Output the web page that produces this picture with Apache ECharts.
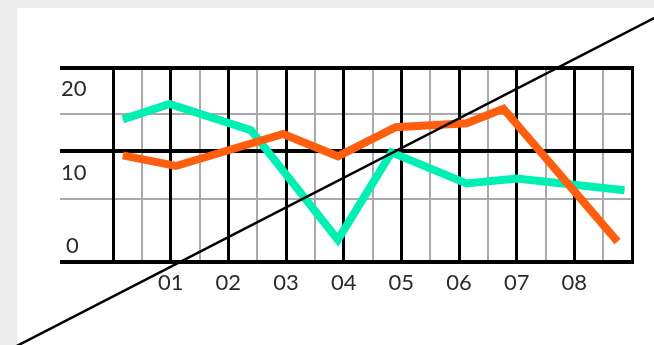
<!DOCTYPE html>
<html>
<head>
<meta charset="utf-8">
<script src="https://cdn.jsdelivr.net/npm/echarts@6/dist/echarts.min.js"></script>
<style>
    html, body { margin: 0; padding: 0; background: #ececec; }
    #main { width: 654px; height: 345px; }
</style>
</head>
<body>
<div id="main"></div>
<script>
// x labels sit on the thick vertical lines 1..8
var xLabels = ['01', '02', '03', '04', '05', '06', '07', '08'];
var yLabels = [0, 10, 20];

// [x, y] (x: 0..9 between the thick verticals)
var greenLine = [[0.17, 14.7], [0.98, 16.3], [2.39, 13.6], [3.9, 2.3], [4.83, 11.3], [6.13, 8.1], [7.0, 8.6], [8.87, 7.4]];
var orangeLine = [[0.17, 11.0], [1.09, 9.9], [2.95, 13.2], [3.9, 10.9], [4.9, 13.9], [6.13, 14.3], [6.77, 15.8], [8.75, 2.1]];
var diagonal = [[-2.5, -11.2], [11, 30.1]];

// horizontal rules
var thickRows = [0, 11.44, 20];
var thinRows = [6.49, 15.26];

var FONT = 'Lato';
var W = 654, H = 345;
// plot box (grid 1)
var PL = 113, PR = 22, PT = 68, PB = 83;
var X_MAX = 9, Y_MAX = 20;

// same scale stretched over the whole canvas, so the diagonal can run edge to edge
var xUnit = (W - PL - PR) / X_MAX;
var yUnit = (H - PT - PB) / Y_MAX;
var fullX = [-PL / xUnit, X_MAX + PR / xUnit];
var fullY = [-PB / yUnit, Y_MAX + PT / yUnit];

var chart = echarts.init(document.getElementById('main'));

function labelStyle(pad) {
    return {fontSize: 22, fontFamily: FONT, fontWeight: 'normal', color: '#2a2a2a', padding: pad};
}

function rows(list, color, width, z) {
    return {
        type: 'line',
        xAxisIndex: 0,
        yAxisIndex: 0,
        data: [],
        markLine: {
            silent: true,
            z: z,
            symbol: ['none', 'none'],
            label: {show: false},
            animation: false,
            lineStyle: {color: color, width: width, type: 'solid'},
            data: list.map(function (v) { return {yAxis: v}; })
        }
    };
}

chart.setOption({
    animation: false,
    backgroundColor: '#ececec',
    graphic: {
        elements: [{
            type: 'rect', left: 17, top: 8, z: -100,
            shape: {width: 640, height: 340},
            style: {fill: '#fff'}
        }]
    },
    grid: [
        {left: 60, right: 20, top: PT, bottom: PB},
        {left: PL, right: PR, top: PT, bottom: PB},
        {left: 0, right: 0, top: 0, bottom: 0}
    ],
    xAxis: [
        {gridIndex: 0, type: 'value', min: 0, max: 1, show: false},
        {
            gridIndex: 1, type: 'value', min: 0, max: X_MAX, interval: 1,
            axisLine: {show: false},
            axisTick: {show: false},
            minorTick: {show: false, splitNumber: 2},
            splitLine: {show: true, lineStyle: {color: '#000', width: 3}},
            minorSplitLine: {show: true, lineStyle: {color: '#aaa', width: 2}},
            axisLabel: {
                margin: 10,
                fontSize: 22, fontFamily: FONT, fontWeight: 'normal', color: '#2a2a2a',
                formatter: function (v) { return xLabels[v - 1] || ''; }
            }
        },
        {gridIndex: 2, type: 'value', min: fullX[0], max: fullX[1], show: false}
    ],
    yAxis: [
        {
            gridIndex: 0, type: 'value', min: 0, max: Y_MAX, interval: 10,
            axisLine: {show: false},
            axisTick: {show: false},
            splitLine: {show: false},
            axisLabel: {
                inside: true, margin: 1, align: 'left',
                fontSize: 22, fontFamily: FONT, fontWeight: 'normal', color: '#2a2a2a',
                formatter: function (v) {
                    return yLabels.indexOf(v) >= 0 ? '{l' + v + '|' + v + '}' : '';
                },
                rich: {
                    l20: labelStyle([41, 0, 0, 0]),
                    l10: labelStyle([16, 0, 0, 0]),
                    l0: labelStyle([0, 0, 32, 5])
                }
            }
        },
        {gridIndex: 1, type: 'value', min: 0, max: Y_MAX, show: false},
        {gridIndex: 2, type: 'value', min: fullY[0], max: fullY[1], show: false}
    ],
    series: [
        rows(thinRows, '#aaa', 2, -1),
        rows(thickRows, '#000', 4, 5),
        {
            type: 'line', xAxisIndex: 1, yAxisIndex: 1,
            data: greenLine, symbol: 'none', z: 6,
            lineStyle: {color: '#00f0b4', width: 8, join: 'miter', cap: 'butt'}
        },
        {
            type: 'line', xAxisIndex: 1, yAxisIndex: 1,
            data: orangeLine, symbol: 'none', z: 7,
            lineStyle: {color: '#ff5e0e', width: 8, join: 'miter', cap: 'butt'}
        },
        {
            type: 'line', xAxisIndex: 2, yAxisIndex: 2,
            data: diagonal, symbol: 'none', z: 8,
            lineStyle: {color: '#000', width: 2.5}
        }
    ]
});

window.onresize = function () {
    chart.resize();
};
</script>
</body>
</html>
